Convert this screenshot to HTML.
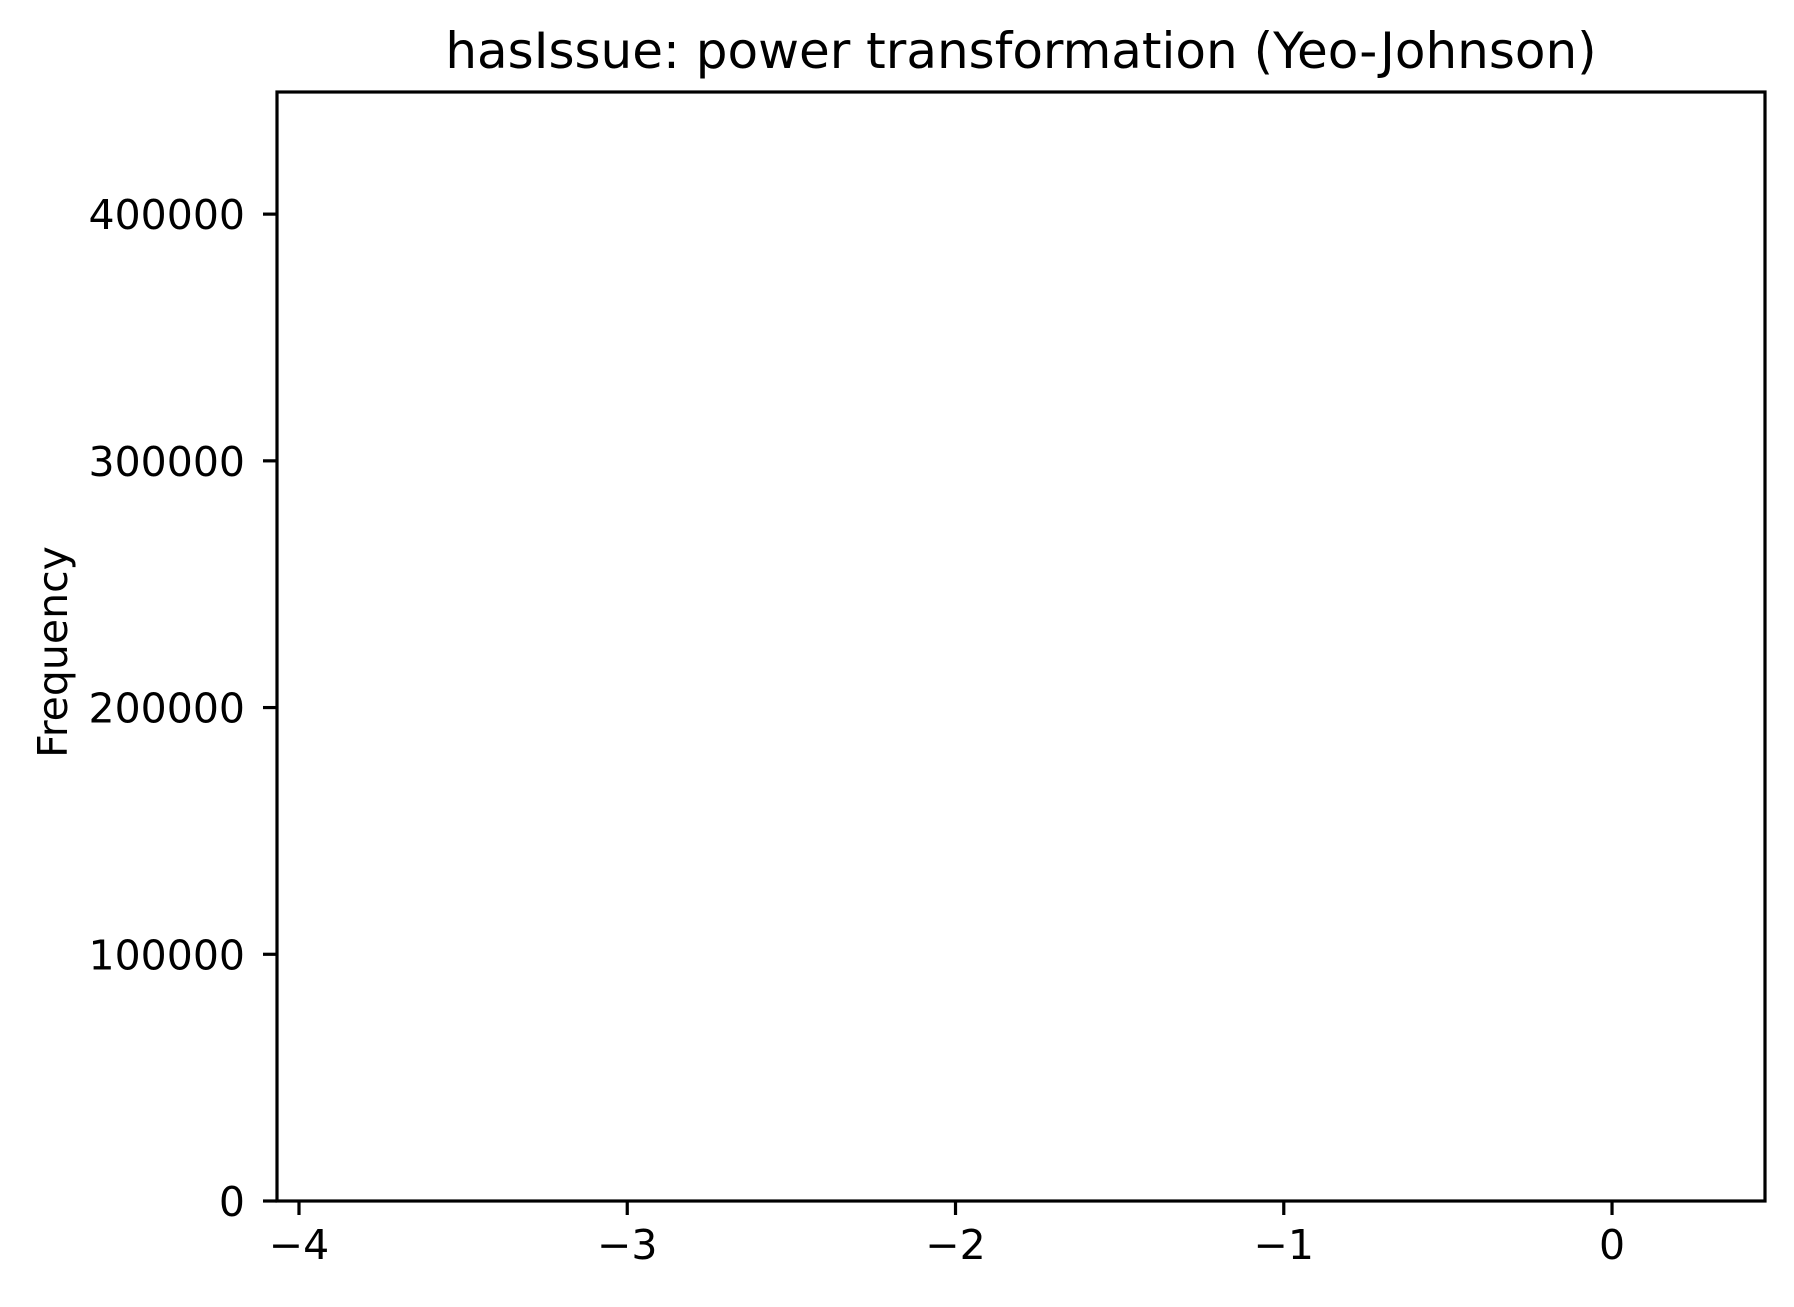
<!DOCTYPE html>
<html><head><meta charset="utf-8"><style>
html,body{margin:0;padding:0;background:#fff;}
svg text{font-family:"DejaVu Sans","Liberation Sans",sans-serif;fill:#000;}
</style></head><body>
<svg id="chart" width="1794" height="1302" viewBox="0 0 1794 1302" xmlns="http://www.w3.org/2000/svg">
<rect x="0" y="0" width="1794" height="1302" fill="#fff"/>
<text x="1021" y="68" font-size="50" text-anchor="middle">hasIssue: power transformation (Yeo-Johnson)</text>
<text transform="translate(67,652) rotate(-90)" font-size="41" text-anchor="middle">Frequency</text>
<g id="bars"></g>
<g id="xticks"></g>
<g id="yticks"></g>
<rect x="277" y="92" width="1488" height="1109" fill="none" stroke="#000" stroke-width="3.2"/>
</svg>
<script>
const binEdges = [];
const binCounts = [];
const xTickValues = [-4, -3, -2, -1, 0];
const xTickLabels = ["\u22124", "\u22123", "\u22122", "\u22121", "0"];
const yTickValues = [0, 100000, 200000, 300000, 400000];
const yTickLabels = ["0", "100000", "200000", "300000", "400000"];

const L = 277, R = 1765, T = 92, B = 1201;
const xMin = -4.067, xMax = 0.466, yMin = 0, yMax = 449500;
function xs(v){ return L + (v - xMin) / (xMax - xMin) * (R - L); }
function ys(v){ return B - (v - yMin) / (yMax - yMin) * (B - T); }
const NS = "http://www.w3.org/2000/svg";
const bars = document.getElementById('bars');
for (let i = 0; i < binCounts.length; i++) {
  const r = document.createElementNS(NS, 'rect');
  
  
  const x0 = xs(binEdges[i]), x1 = xs(binEdges[i+1]);
  r.setAttribute('x', x0); r.setAttribute('width', x1 - x0);
  r.setAttribute('y', ys(binCounts[i])); r.setAttribute('height', B - ys(binCounts[i]));
  r.setAttribute('fill', '#1f77b4');
  bars.appendChild(r);
}
const xg = document.getElementById('xticks');
xTickValues.forEach((v, i) => {
  const x = xs(v);
  const l = document.createElementNS(NS, 'line');
  
  
  l.setAttribute('x1', x); l.setAttribute('x2', x); l.setAttribute('y1', B); l.setAttribute('y2', B + 14);
  l.setAttribute('stroke', '#000'); l.setAttribute('stroke-width', '3.2');
  xg.appendChild(l);
  const t = document.createElementNS(NS, 'text');
  
  
  t.setAttribute('x', x); t.setAttribute('y', 1259); t.setAttribute('font-size', '41'); t.setAttribute('text-anchor', 'middle');
  t.textContent = xTickLabels[i];
  xg.appendChild(t);
});
const yg = document.getElementById('yticks');
yTickValues.forEach((v, i) => {
  const y = ys(v);
  const l = document.createElementNS(NS, 'line');
  
  
  l.setAttribute('x1', L - 14); l.setAttribute('x2', L); l.setAttribute('y1', y); l.setAttribute('y2', y);
  l.setAttribute('stroke', '#000'); l.setAttribute('stroke-width', '3.2');
  yg.appendChild(l);
  const t = document.createElementNS(NS, 'text');
  
  
  t.setAttribute('x', 245); t.setAttribute('y', y + 15); t.setAttribute('font-size', '41'); t.setAttribute('text-anchor', 'end');
  t.textContent = yTickLabels[i];
  yg.appendChild(t);
});
</script>
</body></html>
